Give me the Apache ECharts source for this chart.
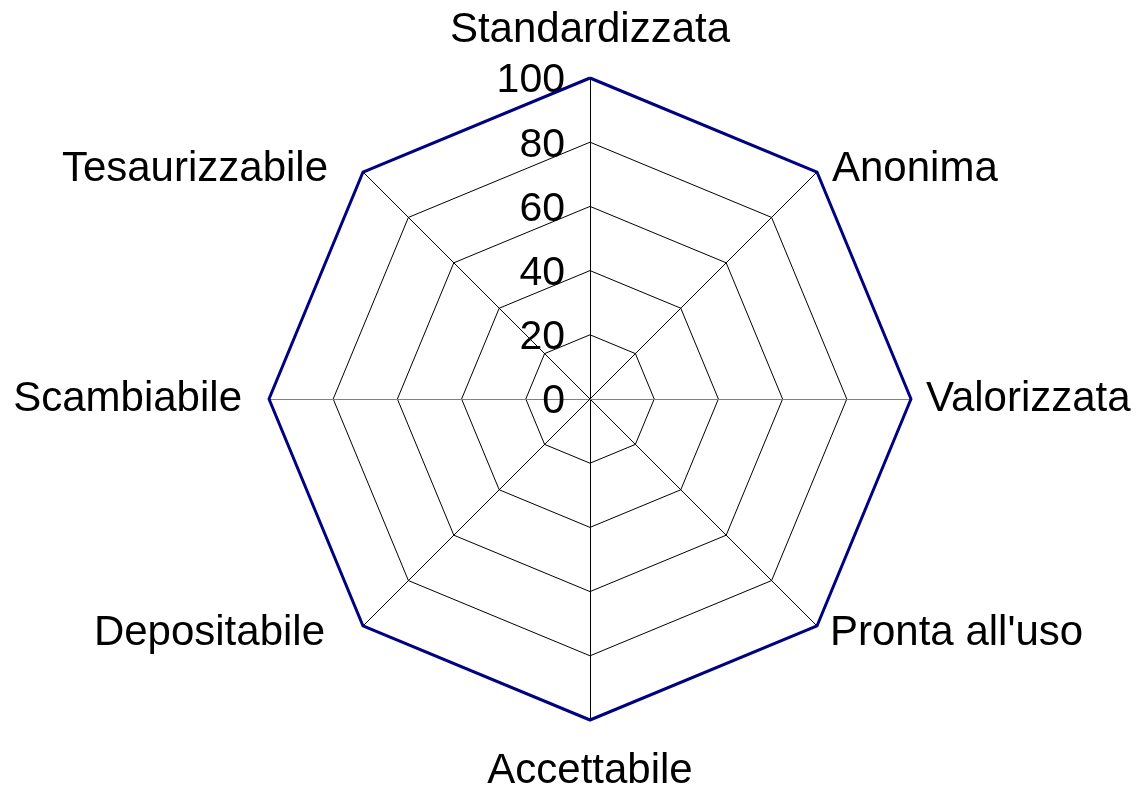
<!DOCTYPE html>
<html><head><meta charset="utf-8">
<script src="https://cdn.jsdelivr.net/npm/echarts@6/dist/echarts.min.js"></script>
<style>html,body{margin:0;padding:0;background:#fff}#c{width:1136px;height:787px}</style>
</head><body><div id="c"></div>
<script>
// Data (clockwise from top)
const categories = ["Standardizzata","Anonima","Valorizzata","Pronta all'uso","Accettabile","Depositabile","Scambiabile","Tesaurizzabile"];
const seriesValues = [100,100,100,100,100,100,100,100];
const axisMin = 0;
const axisMax = 100;
const tickLabels = ["0","20","40","60","80","100"];

// ECharts radar draws counter-clockwise, so reorder indices to get clockwise order
const order = [0,7,6,5,4,3,2,1];

// name label layout per category index (layout only)
const nameStyle = {
  0:{padding:[0,0,27,0]},
  1:{padding:[0,0,0,15], verticalAlign:'bottom', lineHeight:6},
  2:{padding:[0,0,0,15]},
  3:{padding:[0,0,0,13], verticalAlign:'top', lineHeight:15},
  4:{padding:[30,0,0,0]},
  5:{padding:[0,38,0,0], verticalAlign:'top', lineHeight:15},
  6:{padding:[0,27,0,0]},
  7:{padding:[0,35,0,0], verticalAlign:'bottom', lineHeight:6}
};
const FONT = 'Liberation Sans, Arial, sans-serif';

const indicator = order.map(i => {
  const o = {
    name: categories[i], min: axisMin, max: axisMax,
    nameGap: 0,
    nameMoveOverlap: false,
    nameTextStyle: nameStyle[i],
    axisLabel: {show: i === 0}
  };
  if (i === 2 || i === 6) o.axisLine = {lineStyle:{color:'#808080'}};
  return o;
});

const chart = echarts.init(document.getElementById('c'), null, {renderer:'canvas'});
chart.setOption({
  backgroundColor:'#fff',
  animation:false,
  radar:{
    center:[590,399],
    radius:321,
    startAngle:90,
    shape:'polygon',
    splitNumber: tickLabels.length - 1,
    indicator: indicator,
    axisName:{color:'#000', fontSize:42, fontFamily:FONT},
    nameGap:0,
    axisLine:{lineStyle:{color:'#000', width:1}},
    splitLine:{lineStyle:{color:'#000', width:1}},
    splitArea:{show:false},
    axisTick:{show:false},
    axisLabel:{color:'#000', fontSize:41, fontFamily:FONT, margin:25, verticalAlign:'top', lineHeight:6, showMinLabel:true, showMaxLabel:true,
      formatter: v => tickLabels[Math.round((v-axisMin)/(axisMax-axisMin)*(tickLabels.length-1))] }
  },
  series:[{
    type:'radar',
    symbol:'none',
    lineStyle:{color:'#000080', width:3},
    data:[{value: order.map(i => seriesValues[i])}]
  }]
});
</script></body></html>
